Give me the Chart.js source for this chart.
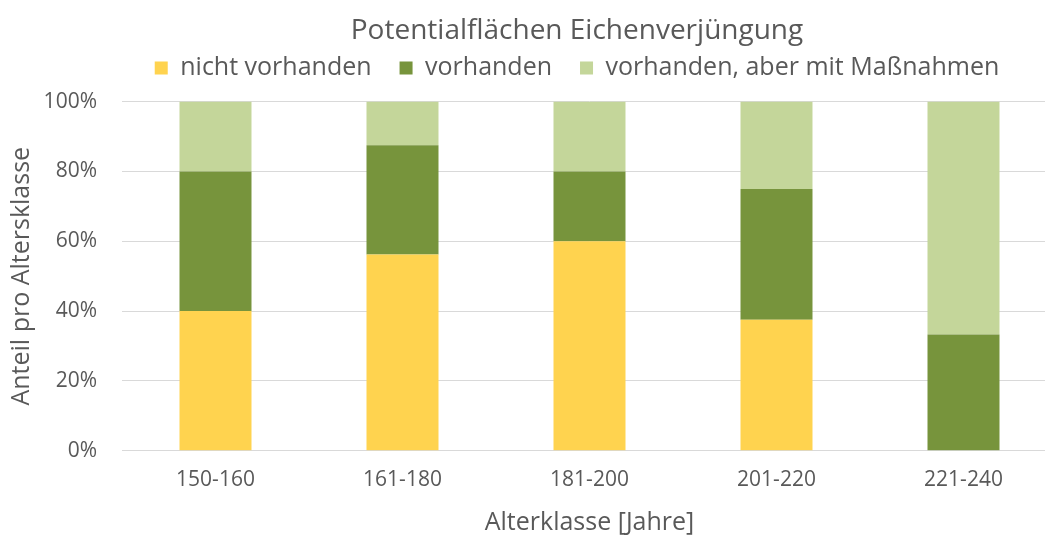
<!DOCTYPE html>
<html>
<head>
<meta charset="utf-8">
<script src="https://cdn.jsdelivr.net/npm/chart.js@4.4.1/dist/chart.umd.min.js"></script>
<style>
  html, body { margin: 0; padding: 0; background: #fff; overflow: hidden; }
  #wrap { width: 1154px; height: 535px; position: relative; }
</style>
</head>
<body>
<div id="wrap"><canvas id="c"></canvas></div>
<script>
const categories = ["150-160", "161-180", "181-200", "201-220", "221-240"]
const nichtVorhanden = [40, 56.25, 60, 37.5, 0]
const vorhanden = [40, 31.25, 20, 37.5, 33.3]
const mitMassnahmen = [20, 12.5, 20, 25, 66.7]

const FONT = "'Open Sans', 'Noto Sans', sans-serif"
const TEXT = "#595959"

// a bit more room between legend and plot than the legend asks for
const legendGap = {
  id: "legendGap",
  beforeInit(chart) {
    const legend = chart.legend
    if (!legend) return
    const fit = legend.fit
    legend.fit = function () { fit.call(this); this.height += 11 }
  }
}

new Chart(document.getElementById("c").getContext("2d"), {
  type: "bar",
  plugins: [legendGap],
  data: {
    labels: categories,
    datasets: [
      { label: "nicht vorhanden", data: nichtVorhanden, backgroundColor: "#FFD34F" },
      { label: "vorhanden", data: vorhanden, backgroundColor: "#77943C" },
      { label: "vorhanden, aber mit Maßnahmen", data: mitMassnahmen, backgroundColor: "#C4D69A" }
    ]
  },
  options: {
    responsive: true,
    maintainAspectRatio: false,
    animation: false,
    layout: { padding: { left: 0, right: 0, top: 4, bottom: 0 } },
    datasets: { bar: { barPercentage: 0.385, categoryPercentage: 1 } },
    plugins: {
      title: {
        display: true, text: "Potentialflächen Eichenverjüngung",
        color: TEXT, font: { family: FONT, size: 28, weight: "normal" },
        padding: { top: 10, bottom: -20 }
      },
      legend: {
        display: true,
        labels: {
          color: TEXT, font: { family: FONT, size: 25 },
          boxWidth: 13, boxHeight: 13, padding: 28
        }
      },
      tooltip: { enabled: false }
    },
    scales: {
      x: {
        stacked: true,
        grid: { display: false, drawTicks: false },
        border: { color: "#d9d9d9" },
        ticks: { color: TEXT, font: { family: FONT, size: 21 }, padding: 17 },
        title: { display: true, text: "Alterklasse [Jahre]", color: TEXT, font: { family: FONT, size: 25, lineHeight: 1.0 }, padding: { top: 0, bottom: 0 } }
      },
      y: {
        stacked: true, min: 0, max: 100,
        afterFit: scale => { scale.width = 122 },
        grid: { color: "#d9d9d9", drawTicks: false },
        border: { display: false },
        ticks: { stepSize: 20, color: TEXT, font: { family: FONT, size: 21 }, padding: 25, callback: v => v + "%" },
        title: { display: true, text: "Anteil pro Altersklasse", color: TEXT, font: { family: FONT, size: 25 }, padding: { top: 7, bottom: 0 } }
      },
      // empty spacer on the right so title and legend sit where they do in the original
      spacer: {
        type: "linear", position: "right", display: true,
        afterFit: scale => { scale.width = 97 },
        grid: { display: false, drawTicks: false },
        border: { display: false },
        ticks: { display: false }
      }
    }
  }
})
</script>
</body>
</html>
